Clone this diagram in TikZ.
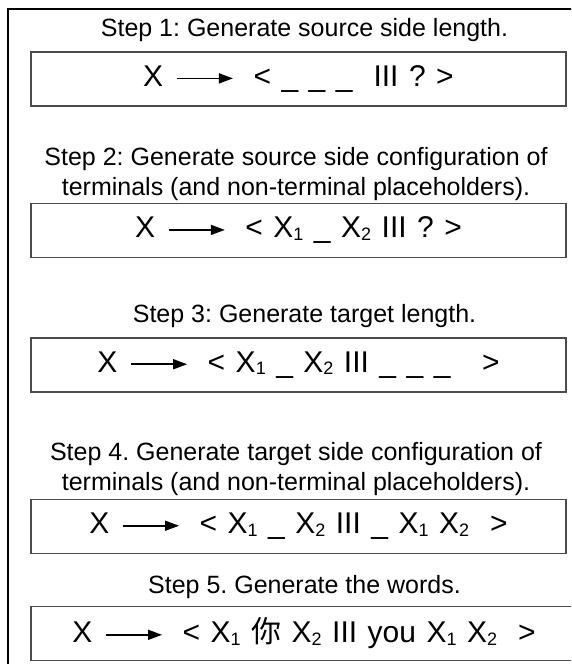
\documentclass[tikz,border=0pt]{standalone}
\usepackage{fontspec}
\setmainfont{Liberation Sans}
\newfontfamily\cjk{Noto Sans CJK SC}
\usetikzlibrary{arrows.meta}
\frenchspacing
\newcommand\sbx[1]{\raisebox{-0.08em}{\fontsize{18}{18}\selectfont #1}}
\newcommand\rarr{\hspace{0.43em}\tikz[baseline=-0.27em]\draw[line width=1.6pt,-{Triangle[length=14pt,width=10pt]}] (0,0) -- (56pt,0);\hspace{0.66em}}
\newcommand\widesp{\spaceskip=10.5pt\relax}
\begin{document}
\begin{tikzpicture}[x=1pt,y=-1pt,
  steptext/.style={font=\fontsize{25}{30}\selectfont, align=center, inner sep=0pt},
  rulebox/.style={draw=black!70, line width=1.2pt, minimum height=54pt, inner sep=0pt,
    font=\fontsize{30}{32}\selectfont}]
\clip (0,0) rectangle (571,664);
\fill[white] (0,0) rectangle (571,664);
\draw[line width=1.1pt] (8,700) -- (8,9) -- (600,9);
\node[steptext] (s1) at (304.5,30) {Step 1: Generate source side length.};
\node[rulebox, minimum width=535pt] (r1) at (298.5,79) {\widesp X\rarr< \_ \_ \_ \ III ? >};
\node[steptext] (s2) at (296,174) {Step 2: Generate source side configuration of\\terminals (and non-terminal placeholders).};
\node[rulebox, minimum width=535pt] (r2) at (298.5,230.5) {\widesp X\rarr< X\sbx{1} \_ X\sbx{2} III ? >};
\node[steptext] (s3) at (304.5,316) {Step 3: Generate target length.};
\node[rulebox, minimum width=535pt] (r3) at (298.5,365) {\widesp X\rarr< X\sbx{1} \_ X\sbx{2} III \_ \_ \_ \ \ >};
\node[steptext] (s4) at (296,469) {Step 4. Generate target side configuration of\\terminals (and non-terminal placeholders).};
\node[rulebox, minimum width=535pt] (r4) at (298.5,526.5) {\widesp X\rarr< X\sbx{1} \_ X\sbx{2} III \_ X\sbx{1} X\sbx{2} \ >};
\node[steptext] (s5) at (304.5,587) {Step 5. Generate the words.};
\node[rulebox, minimum width=560pt] (r5) at (311,633.5) {\widesp\hspace*{-14pt}X\rarr< X\sbx{1} {\cjk 你} X\sbx{2} III you X\sbx{1} X\sbx{2} \ >};
\end{tikzpicture}
\end{document}
